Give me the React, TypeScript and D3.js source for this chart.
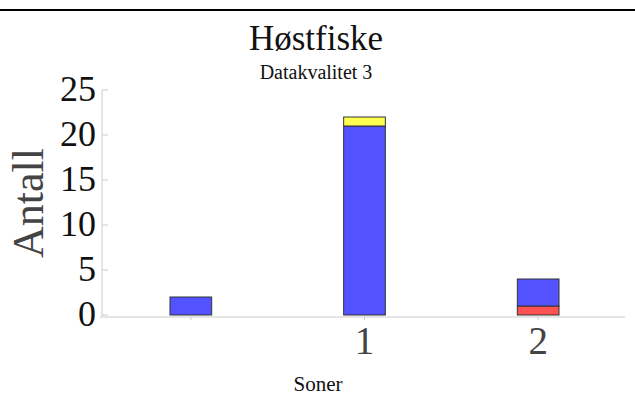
import React from "react";
import * as d3 from "d3";

const categories = ["", "1", "2"];
const seriesNames = ["red", "blue", "yellow"];
const redValues = [0, 0, 1];
const blueValues = [2, 21, 3];
const yellowValues = [0, 1, 0];
const yTicks = [0, 5, 10, 15, 20, 25];
const colors: Record<string, string> = { red: "#ff5252", blue: "#5252ff", yellow: "#ffff50" };

export default function App() {
  const W = 635, H = 407;
  const x = d3.scaleBand<string>().domain(categories).range([104, 625]).paddingInner(0.76).paddingOuter(0.38);
  const y = d3.scaleLinear().domain([0, 25]).range([315, 90]);
  const rows = categories.map((c, i) => ({ cat: c, red: redValues[i], blue: blueValues[i], yellow: yellowValues[i] }));
  const stack = d3.stack<any>().keys(seriesNames)(rows);
  const serif = "'Liberation Serif', 'DejaVu Serif', serif";
  return (
    <svg width={W} height={H} style={{ position: "absolute", left: 0, top: 0, background: "#fff" }}>
      <line x1={0} x2={W} y1={10} y2={10} stroke="#000" strokeWidth={2} />
      <text x={316} y={50} textAnchor="middle" fontFamily={serif} fontSize={35} fill="#111">Høstfiske</text>
      <text x={316} y={79} textAnchor="middle" fontFamily={serif} fontSize={20} fill="#111">Datakvalitet 3</text>
      <line x1={102} x2={102} y1={y(25)} y2={y(0) + 2} stroke="#ccc" />
      <line x1={100} x2={625} y1={y(0) + 2} y2={y(0) + 2} stroke="#ddd" strokeWidth={1.5} />
      {yTicks.map((t) => (
        <g key={t}>
          <line x1={102} x2={108} y1={y(t)} y2={y(t)} stroke="#ccc" />
          <text x={96} y={y(t) + 11} textAnchor="end" fontFamily={serif} fontSize={36} fill="#111">{t}</text>
        </g>
      ))}
      {categories.map((c) => (
        <g key={"x" + c}>
          <line x1={x(c)! + x.bandwidth() / 2} x2={x(c)! + x.bandwidth() / 2} y1={y(0) + 2} y2={y(0) + 5} stroke="#ccc" />
          <text x={x(c)! + x.bandwidth() / 2} y={354} textAnchor="middle" fontFamily={serif} fontSize={39} fill="#444">{c}</text>
        </g>
      ))}
      {stack.map((s) => (
        <g key={s.key} fill={colors[s.key]}>
          {s.filter((d) => d[1] - d[0] > 0).map((d, i) => (
            <rect key={i} x={x(d.data.cat)!} width={x.bandwidth()} y={y(d[1])} height={y(d[0]) - y(d[1])} stroke="#333" strokeWidth={1} />
          ))}
        </g>
      ))}
      <text x={318} y={391} textAnchor="middle" fontFamily={serif} fontSize={21} fill="#111">Soner</text>
      <text transform="translate(43,203) rotate(-90)" textAnchor="middle" fontFamily={serif} fontSize={44} fill="#444">Antall</text>
    </svg>
  );
}
